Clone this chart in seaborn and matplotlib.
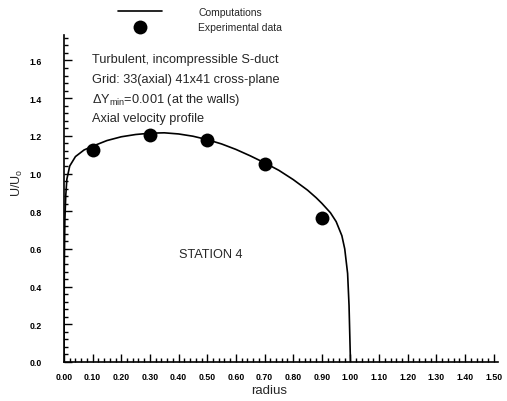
import numpy as np
import pandas as pd
import matplotlib
matplotlib.use('Agg')
import matplotlib.pyplot as plt
from matplotlib.ticker import MultipleLocator, FormatStrFormatter
import seaborn as sns

# 计算结果 (曲线)
radius_comp = [0.0, 0.001, 0.003, 0.006, 0.01, 0.02, 0.04, 0.07, 0.1, 0.15, 0.2, 0.25,
               0.3, 0.35, 0.4, 0.45, 0.5, 0.55, 0.6, 0.65, 0.7, 0.75, 0.8, 0.85,
               0.88, 0.9, 0.93, 0.95, 0.97, 0.98, 0.99, 0.995, 1.0]
u_comp = [0.0, 0.5, 0.75, 0.88, 0.97, 1.04, 1.09, 1.125, 1.145, 1.175, 1.195, 1.207,
          1.214, 1.216, 1.21, 1.198, 1.18, 1.157, 1.128, 1.094, 1.057, 1.017, 0.968, 0.912,
          0.872, 0.842, 0.792, 0.745, 0.67, 0.6, 0.47, 0.3, 0.0]

# 实验数据
radius_exp = [0.10, 0.30, 0.50, 0.70, 0.90]
u_exp = [1.127, 1.203, 1.180, 1.052, 0.762]

comp_df = pd.DataFrame({'radius': radius_comp, 'u': u_comp})
exp_df = pd.DataFrame({'radius': radius_exp, 'u': u_exp})

sns.set_style('ticks')
plt.rcParams['font.family'] = ['Liberation Sans', 'DejaVu Sans']
plt.rcParams['mathtext.fontset'] = 'custom'
plt.rcParams['mathtext.rm'] = 'Liberation Sans'
plt.rcParams['mathtext.it'] = 'Liberation Sans'

fig = plt.figure(figsize=(5.07, 4.02), dpi=100)
ax = fig.add_axes([64 / 507, 1 - 363 / 402, (498 - 64) / 507, (363 - 36) / 402])

sns.lineplot(data=comp_df, x='radius', y='u', ax=ax, color='black', linewidth=1.2,
             sort=False, estimator=None, label='Computations')
sns.scatterplot(data=exp_df, x='radius', y='u', ax=ax, color='black', s=100,
                edgecolor='black', linewidth=0, label='Experimental data', zorder=3)

ax.set_xlim(0, 1.515)
ax.set_ylim(0, 1.735)
ax.xaxis.set_major_locator(MultipleLocator(0.1))
ax.xaxis.set_minor_locator(MultipleLocator(0.02))
ax.yaxis.set_major_locator(MultipleLocator(0.2))
ax.yaxis.set_minor_locator(MultipleLocator(0.04))
ax.xaxis.set_major_formatter(FormatStrFormatter('%.2f'))
ax.yaxis.set_major_formatter(FormatStrFormatter('%.1f'))
ax.tick_params(which='both', direction='in', width=1.0, colors='black')
ax.tick_params(which='major', length=6, labelsize=6.3)
ax.tick_params(axis='x', which='major', pad=7)
ax.tick_params(axis='y', which='major', pad=16)
ax.tick_params(which='minor', length=3)
for lab in ax.get_xticklabels() + ax.get_yticklabels():
    lab.set_fontweight('bold')

for side in ['top', 'right']:
    ax.spines[side].set_visible(False)
for side in ['left', 'bottom']:
    ax.spines[side].set_linewidth(1.2)
    ax.spines[side].set_color('black')

ax.set_xlabel('radius', fontsize=9.5)
ax.xaxis.set_label_coords(0.472, -0.068)
ax.set_ylabel('U/U$_o$', fontsize=9)
ax.yaxis.set_label_coords(-0.089, 0.55)

# 注释文字
notes = ['Turbulent, incompressible S-duct',
         'Grid: 33(axial) 41x41 cross-plane',
         r'$\Delta$Y$_{min}$=0.001 (at the walls)',
         'Axial velocity profile']
for i, t in enumerate(notes):
    fig.text(92 / 507, 1 - (60 + 19.8 * i) / 402, t, fontsize=9.2, va='center', ha='left')
fig.text(179 / 507, 1 - 255 / 402, 'STATION 4', fontsize=9.2, va='center', ha='left')

# 图例 (坐标区外上方)
leg = ax.legend(loc='upper left', bbox_to_anchor=(118 / 507, 1 - 8 / 402),
                bbox_transform=fig.transFigure, frameon=False, fontsize=7.5,
                handlelength=4.2, handletextpad=3.5, labelspacing=0.45,
                borderaxespad=0, borderpad=0)

fig.savefig('out.png', dpi=100)
